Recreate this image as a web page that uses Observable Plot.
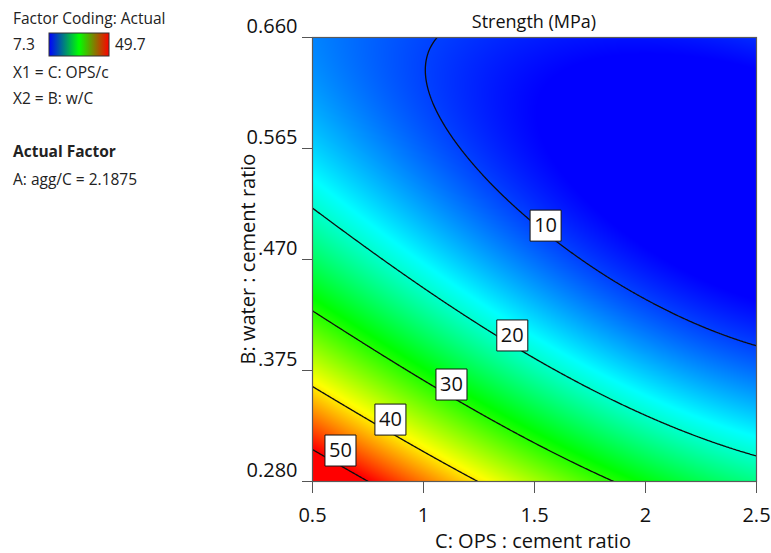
<!DOCTYPE html>
<html>
<head>
<meta charset="utf-8">
<script src="https://cdn.jsdelivr.net/npm/d3@7"></script>
<script src="https://cdn.jsdelivr.net/npm/@observablehq/plot@0.6"></script>
<style>
  html, body { margin: 0; padding: 0; background: #fff; }
  #wrap { position: relative; width: 771px; height: 553px; font-family: "Open Sans", "Noto Sans", sans-serif; }
  #wrap svg { position: absolute; left: 0; top: 0; }
</style>
</head>
<body>
<div id="wrap"></div>
<script>
// ---------------- data ----------------
const title = "Strength (MPa)";
const xLabel = "C: OPS : cement ratio";
const yLabel = "B: water : cement ratio";
const xDomain = [0.5, 2.5];
const yDomain = [0.28, 0.66];
const xTicks = [0.5, 1, 1.5, 2, 2.5];
const yTicks = [0.28, 0.375, 0.47, 0.565, 0.66];
const levels = [10, 20, 30, 40, 50];
const colorMin = 7.3, colorMax = 49.7;
const colorRange = ["#0000ff", "#00ffff", "#00ff00", "#ffff00", "#ff0000"];
const legendLines = ["Factor Coding: Actual", "X1 = C: OPS/c", "X2 = B: w/C"];
const actualFactorTitle = "Actual Factor";
const actualFactor = "A: agg/C = 2.1875";

// traced contour lines [x, y] for each level
const contour10 = [[1.091,0.660],[1.028,0.626],[1.091,0.575],[1.242,0.540],[1.302,0.529],[1.482,0.501],[1.632,0.478],[1.707,0.468],[1.932,0.4435],[2.008,0.435],[2.158,0.4235],[2.248,0.415],[2.5,0.396]];
const contour20 = [[0.5,0.518],[0.694,0.489],[0.919,0.458],[0.987,0.4435],[1.114,0.428],[1.332,0.402],[1.662,0.366],[1.797,0.356],[1.932,0.341],[2.158,0.325],[2.5,0.301]];
const contour30 = [[0.5,0.425],[0.769,0.398],[0.919,0.375],[1.062,0.361],[1.174,0.3465],[1.257,0.3365],[1.557,0.3065],[1.865,0.28]];
const contour40 = [[0.5,0.359],[0.791,0.332],[0.916,0.321],[1.242,0.28]];
const contour50 = [[0.5,0.3065],[0.6185,0.294],[0.746,0.28]];
// values estimated from the colours at a few spots
const spotX = [0.5, 2.5, 2.5, 0.5, 2.0, 1.6];
const spotY = [0.66, 0.66, 0.28, 0.28, 0.58, 0.64];
const spotValue = [12.5, 8.5, 23, 55, 7, 8];
// contour label boxes
const labelX = [1.55, 1.40, 1.126, 0.851, 0.626];
const labelY = [0.499, 0.405, 0.363, 0.333, 0.3065];

// ---------------- surface through the traced contours ----------------
const basis = (x, y) => {
  const u = x - 1.5, v = (y - 0.47) / 0.19;
  return [1, u, v, u*u, u*v, v*v, u*u*u, u*u*v, u*v*v, v*v*v];
};
const rows = [];
[contour10, contour20, contour30, contour40, contour50].forEach((c, i) =>
  c.forEach(([x, y]) => rows.push([x, y, levels[i], 1])));
spotX.forEach((x, i) => rows.push([x, spotY[i], spotValue[i], 0.5]));

function fit(rows) {
  const n = 10;
  const M = Array.from({length: n}, () => new Array(n).fill(0));
  const r = new Array(n).fill(0);
  for (const [x, y, val, w] of rows) {
    const b = basis(x, y);
    for (let i = 0; i < n; i++) {
      r[i] += w * b[i] * val;
      for (let j = 0; j < n; j++) M[i][j] += w * b[i] * b[j];
    }
  }
  for (let i = 1; i < n; i++) M[i][i] += 1e-3;
  for (let k = 0; k < n; k++) {
    let p = k;
    for (let i = k + 1; i < n; i++) if (Math.abs(M[i][k]) > Math.abs(M[p][k])) p = i;
    [M[k], M[p]] = [M[p], M[k]]; [r[k], r[p]] = [r[p], r[k]];
    for (let i = k + 1; i < n; i++) {
      const f = M[i][k] / M[k][k];
      for (let j = k; j < n; j++) M[i][j] -= f * M[k][j];
      r[i] -= f * r[k];
    }
  }
  const c = new Array(n).fill(0);
  for (let i = n - 1; i >= 0; i--) {
    let s = r[i];
    for (let j = i + 1; j < n; j++) s -= M[i][j] * c[j];
    c[i] = s / M[i][i];
  }
  return c;
}
const coef = fit(rows);
const strength = (x, y) => d3.sum(basis(x, y), (b, i) => b * coef[i]);

// ---------------- chart ----------------
const labels = levels.map((lv, i) => ({level: lv, x: labelX[i], y: labelY[i]}));
const nStops = colorRange.length;
const colorDomain = d3.range(nStops).map(i => colorMin + (colorMax - colorMin) * i / (nStops - 1));
const fmtY = d3.format(".3f");
const FONT = "'Open Sans', 'Noto Sans', sans-serif";
// contours are traced over a slightly wider extent and clipped to the frame,
// so that the polygon borders do not darken the frame edges
const padX = 0.02, padY = 0.004;

const chart = Plot.plot({
  width: 771,
  height: 553,
  marginLeft: 312,
  marginRight: 15,
  marginTop: 37,
  marginBottom: 72,
  style: {fontFamily: FONT, color: "#111", background: "transparent"},
  x: {domain: xDomain, label: null},
  y: {domain: yDomain, label: null},
  color: {type: "linear", domain: colorDomain, range: colorRange, clamp: true, interpolate: "rgb"},
  marks: [
    Plot.raster({fill: strength, x1: xDomain[0], x2: xDomain[1], y1: yDomain[0], y2: yDomain[1], pixelSize: 1}),
    Plot.contour({value: strength, x1: xDomain[0] - padX, x2: xDomain[1] + padX, y1: yDomain[0] - padY, y2: yDomain[1] + padY,
      thresholds: levels, pixelSize: 1, fill: "none", stroke: "#0d0d0d", strokeWidth: 1.3, clip: true}),
    Plot.frame({stroke: "#5a5a5a", strokeWidth: 1.2}),
    Plot.axisX({ticks: xTicks, tickSize: 12, tickPadding: 14, fontSize: 20, tickFormat: d => String(d), stroke: "#555", label: null}),
    Plot.axisY({ticks: yTicks, tickSize: 10, tickFormat: () => "", stroke: "#555", label: null}),
    Plot.text(yTicks, {y: d => d, frameAnchor: "left", text: d => fmtY(d), dx: -15, dy: -11, textAnchor: "end", fontSize: 20}),
    Plot.dot(labels, {x: "x", y: "y", symbol: "square", r: 17.5, fill: "white", stroke: "#111", strokeWidth: 1}),
    Plot.text(labels, {x: "x", y: "y", text: d => String(d.level), fontSize: 20, fill: "#111"})
  ]
});
document.getElementById("wrap").appendChild(chart);

// ---------------- overlay: title, axis labels, legend ----------------
const ov = d3.select("#wrap").append("svg")
  .attr("width", 771).attr("height", 553)
  .style("pointer-events", "none")
  .style("font-family", FONT);

ov.append("text").attr("x", 534).attr("y", 28).attr("text-anchor", "middle")
  .attr("font-size", 18).attr("fill", "#111").text(title);
ov.append("text").attr("x", 533).attr("y", 548).attr("text-anchor", "middle")
  .attr("font-size", 20).attr("fill", "#111").text(xLabel);
const yl = ov.append("g").attr("transform", "translate(255,259) rotate(-90)");
yl.append("rect").attr("x", -112).attr("y", -18).attr("width", 224).attr("height", 21).attr("fill", "white");
yl.append("text").attr("text-anchor", "middle").attr("font-size", 20).attr("fill", "#111").text(yLabel);

const grad = ov.append("defs").append("linearGradient").attr("id", "lg");
grad.append("stop").attr("offset", "0%").attr("stop-color", "#0000ff");
grad.append("stop").attr("offset", "50%").attr("stop-color", "#00ff00");
grad.append("stop").attr("offset", "100%").attr("stop-color", "#ff0000");

const lg = ov.append("g").attr("font-size", 15.5).attr("fill", "#222");
lg.append("text").attr("x", 13).attr("y", 24).text(legendLines[0]);
lg.append("text").attr("x", 13).attr("y", 50).text(String(colorMin));
lg.append("rect").attr("x", 49).attr("y", 33).attr("width", 60).attr("height", 23)
  .attr("fill", "url(#lg)").attr("stroke", "#333").attr("stroke-width", 1);
lg.append("text").attr("x", 115).attr("y", 50).text(String(colorMax));
lg.append("text").attr("x", 13).attr("y", 78).text(legendLines[1]);
lg.append("text").attr("x", 13).attr("y", 104).text(legendLines[2]);
lg.append("text").attr("x", 13).attr("y", 157).attr("font-weight", "bold").text(actualFactorTitle);
lg.append("text").attr("x", 13).attr("y", 185).text(actualFactor);
</script>
</body>
</html>
